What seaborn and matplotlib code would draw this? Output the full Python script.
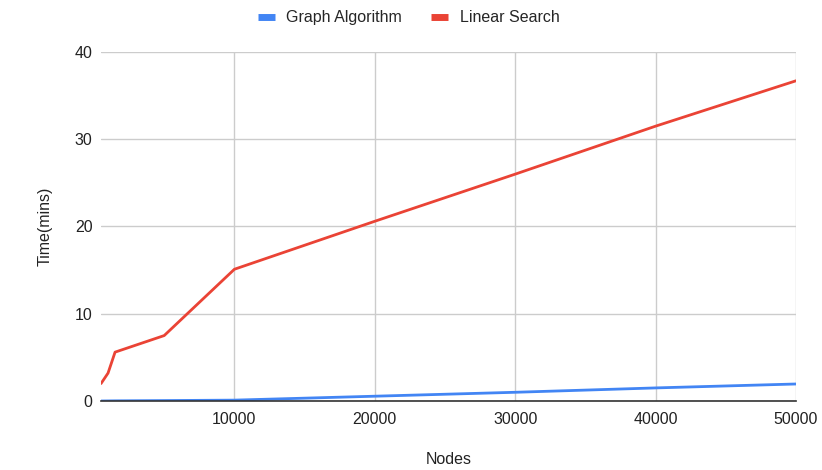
import matplotlib
matplotlib.use("Agg")
import matplotlib.pyplot as plt
import seaborn as sns
import pandas as pd

nodes = [500, 1000, 1500, 5000, 10000, 20000, 30000, 40000, 50000]
graph_algorithm = [0.0, 0.01, 0.02, 0.05, 0.1, 0.55, 1.0, 1.5, 1.95]
linear_search = [2.0, 3.2, 5.6, 7.5, 15.1, 20.6, 26.0, 31.5, 36.7]
series_names = ["Graph Algorithm", "Linear Search"]
colors = ["#4285F4", "#EA4335"]
x_ticks = [10000, 20000, 30000, 40000, 50000]
y_ticks = [0, 10, 20, 30, 40]

df = pd.concat([
    pd.DataFrame({"Nodes": nodes, "Time(mins)": graph_algorithm, "Series": series_names[0]}),
    pd.DataFrame({"Nodes": nodes, "Time(mins)": linear_search, "Series": series_names[1]}),
])

sns.set_theme(style="white")
plt.rcParams["font.family"] = ["Liberation Sans", "DejaVu Sans"]

fs = 11.5
fig = plt.figure(figsize=(8.22, 4.70), dpi=100)
ax = fig.add_axes([0.1229, 0.1468, 0.8455, 0.7426])

sns.lineplot(data=df, x="Nodes", y="Time(mins)", hue="Series",
             palette=dict(zip(series_names, colors)), linewidth=2.0,
             ax=ax, legend=False)

ax.set_xlim(nodes[0], nodes[-1])
ax.set_ylim(0, 40)
ax.set_xticks(x_ticks)
ax.set_yticks(y_ticks)
ax.grid(True, color="#cccccc", linewidth=1.0)
ax.set_axisbelow(True)
for s in ["left", "right", "top"]:
    ax.spines[s].set_visible(False)
ax.spines["bottom"].set_color("#333333")
ax.spines["bottom"].set_linewidth(1.2)
ax.spines["bottom"].set_zorder(5)
ax.tick_params(axis="both", length=0, labelsize=fs, colors="#222222")
ax.tick_params(axis="x", pad=8)
ax.tick_params(axis="y", pad=6)
ax.set_xlabel("Nodes", fontsize=fs, color="#222222", labelpad=18)
ax.set_ylabel("Time(mins)", fontsize=fs, color="#222222", labelpad=16)

handles = [plt.Line2D([0], [0], color=c, linewidth=5, solid_capstyle="butt") for c in colors]
fig.legend(handles, series_names, loc="center", bbox_to_anchor=(0.497, 0.962),
           ncol=2, frameon=False, fontsize=fs, handlelength=1.1,
           columnspacing=1.8, handletextpad=0.7)

fig.savefig("out.png", dpi=100)
